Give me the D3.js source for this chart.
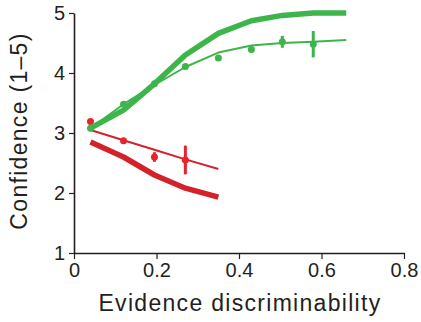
<!DOCTYPE html>
<html><head><meta charset="utf-8">
<script src="https://cdn.jsdelivr.net/npm/d3@7"></script>
<style>body{margin:0;background:#fff}svg{display:block}text{font-family:Arial,"Liberation Sans",sans-serif;fill:#231f20}</style>
</head><body><svg id="c" width="421" height="322"></svg>
<script>
const xs = [0.04, 0.12, 0.195, 0.27, 0.35, 0.43, 0.505, 0.58, 0.66];
const greenModel = [3.08, 3.38, 3.82, 4.3, 4.66, 4.87, 4.96, 5.0, 5.0];
const greenFit = [3.08, 3.48, 3.8, 4.1, 4.34, 4.46, 4.5, 4.52, 4.55];
const greenData = [3.08, 3.48, 3.82, 4.11, 4.25, 4.39, 4.52, 4.48];
const greenErr = [0.02, 0.03, 0.03, 0.03, 0.04, 0.05, 0.1, 0.22];
const redXs = [0.04, 0.12, 0.195, 0.27, 0.35];
const redModel = [2.85, 2.6, 2.3, 2.08, 1.93];
const redFit = [3.05, 2.88, 2.72, 2.56, 2.4];
const redData = [3.19, 2.87, 2.6, 2.55];
const redErr = [0.03, 0.04, 0.08, 0.24];
const xTicks = [0, 0.2, 0.4, 0.6, 0.8];
const yTicks = [1, 2, 3, 4, 5];

const svg = d3.select("#c");
const x = d3.scaleLinear().domain([0, 0.8]).range([74, 404]);
const y = d3.scaleLinear().domain([1, 5]).range([253, 13]);
const green = "#3db54a", red = "#d2232a", redDot = "#e8242b";

const gx = svg.append("g").attr("transform", "translate(0,253)")
  .call(d3.axisBottom(x).tickValues(xTicks).tickFormat(d => d === 0 ? "0" : d3.format(".1f")(d)).tickSize(6).tickSizeOuter(0).tickPadding(4));
const gy = svg.append("g").attr("transform", "translate(74,0)")
  .call(d3.axisLeft(y).tickValues(yTicks).tickFormat(d3.format("d")).tickSize(5).tickSizeOuter(0).tickPadding(4));
[gx, gy].forEach(g => {
  g.select(".domain").attr("stroke", "#231f20").attr("stroke-width", 1.6);
  g.selectAll(".tick line").attr("stroke", "#231f20").attr("stroke-width", 1.2);
  g.selectAll("text").attr("font-size", 20).attr("fill", "#231f20").style("font-family", "Arial, 'Liberation Sans', sans-serif");
});

const line = d3.line().x(d => x(d[0])).y(d => y(d[1]));
function path(xv, yv, col, w) {
  svg.append("path").datum(xv.map((v, i) => [v, yv[i]]))
    .attr("d", line).attr("fill", "none").attr("stroke", col).attr("stroke-width", w)
    .attr("stroke-linejoin", "round");
}
function dots(xv, yv, ev, col) {
  yv.forEach((v, i) => {
    svg.append("line").attr("x1", x(xv[i])).attr("x2", x(xv[i]))
      .attr("y1", y(v + ev[i])).attr("y2", y(v - ev[i])).attr("stroke", col).attr("stroke-width", 3);
    svg.append("circle").attr("cx", x(xv[i])).attr("cy", y(v)).attr("r", 3.5).attr("fill", col);
  });
}

path(redXs, redModel, red, 5.5);
path(redXs, redFit, red, 2);
dots(redXs, redData, redErr, redDot);
path(xs, greenModel, green, 5.5);
path(xs, greenFit, green, 2);
dots(xs, greenData, greenErr, green);

svg.append("text").attr("x", 240).attr("y", 311).attr("text-anchor", "middle")
  .attr("font-size", 23).attr("letter-spacing", "1.3px").text("Evidence discriminability");
svg.append("text").attr("transform", "translate(27,131) rotate(-90)").attr("text-anchor", "middle")
  .attr("font-size", 23).attr("letter-spacing", "1.3px").text("Confidence (1\u20135)");
</script></body></html>
